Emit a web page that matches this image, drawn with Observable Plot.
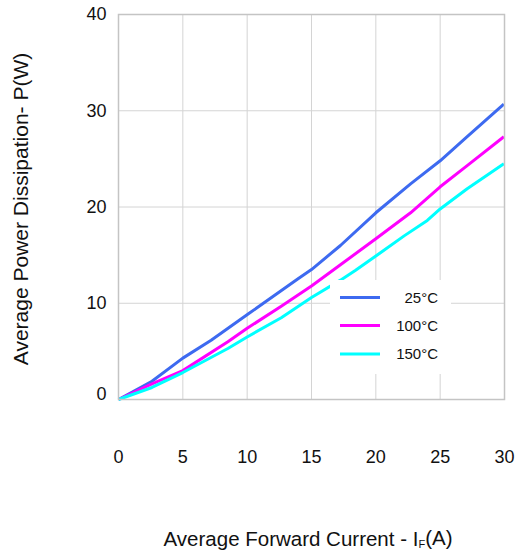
<!DOCTYPE html>
<html>
<head>
<meta charset="utf-8">
<script src="https://cdn.jsdelivr.net/npm/d3@7"></script>
<script src="https://cdn.jsdelivr.net/npm/@observablehq/plot@0.6"></script>
<style>
  html, body { margin: 0; padding: 0; background: #fff; }
  #chart { width: 517px; height: 556px; }
</style>
</head>
<body>
<div id="chart"></div>
<script>
const xTicks = [0, 5, 10, 15, 20, 25, 30];
const yTicks = [0, 10, 20, 30, 40];

const current25 = [0, 2.6, 5.0, 7.2, 10.1, 13.9, 15.0, 17.25, 20.0, 22.7, 25.0, 27.1, 29.95];
const power25   = [0, 1.9, 4.3, 6.16, 8.9, 12.5, 13.5, 16.0, 19.4, 22.4, 24.8, 27.3, 30.7];

const current100 = [0, 2.6, 5.0, 8.5, 10.0, 12.65, 15.0, 17.25, 20.0, 22.7, 25.0, 27.1, 29.95];
const power100   = [0, 1.63, 3.0, 6.0, 7.4, 9.7, 11.8, 14.0, 16.7, 19.4, 22.1, 24.3, 27.3];

const current150 = [0, 2.6, 5.0, 8.5, 10.0, 12.65, 15.0, 17.25, 18.4, 20.0, 22.2, 24.0, 25.0, 27.1, 29.95];
const power150   = [0, 1.25, 2.8, 5.3, 6.5, 8.5, 10.6, 12.4, 13.4, 14.9, 17.0, 18.6, 19.8, 21.9, 24.5];

const seriesNames = ["25°C", "100°C", "150°C"];
const seriesColors = ["#3d6af0", "#ff00ff", "#00ffff"];

const rows = [
  ...current25.map((x, i) => ({x, y: power25[i], s: seriesNames[0]})),
  ...current100.map((x, i) => ({x, y: power100[i], s: seriesNames[1]})),
  ...current150.map((x, i) => ({x, y: power150[i], s: seriesNames[2]}))
];

const W = 517, H = 556;
const mL = 118, mR = 13, mT = 14, mB = 157;
const FONT = "Liberation Sans, Arial, sans-serif";

const plot = Plot.plot({
  width: W,
  height: H,
  marginLeft: mL,
  marginRight: mR,
  marginTop: mT,
  marginBottom: mB,
  style: {fontFamily: FONT, background: "#fff", overflow: "visible"},
  x: {domain: [0, 30], ticks: xTicks},
  y: {domain: [0, 40], ticks: yTicks},
  color: {domain: seriesNames, range: seriesColors},
  marks: [
    Plot.gridX(xTicks, {stroke: "#d4d4d4", strokeOpacity: 1, strokeWidth: 1}),
    Plot.gridY(yTicks, {stroke: "#d4d4d4", strokeOpacity: 1, strokeWidth: 1}),
    Plot.axisX(xTicks, {tickSize: 0, tickPadding: 0, dy: 51, fontSize: 18, fill: "#111", label: null}),
    Plot.axisY(yTicks.filter(d => d !== 0), {tickSize: 0, tickPadding: 0, dx: -12, fontSize: 18, fill: "#111", label: null}),
    Plot.axisY([0], {tickSize: 0, tickPadding: 0, dx: -12, dy: -5, fontSize: 18, fill: "#111", label: null}),
    Plot.line(rows, {x: "x", y: "y", z: "s", stroke: "s", strokeWidth: 3, strokeLinejoin: "round", strokeLinecap: "butt"}),
    Plot.frame({stroke: "#c4c4c4", strokeWidth: 1.5})
  ]
});

document.getElementById("chart").appendChild(plot);

const svg = d3.select(plot);

// legend background box (covers gridlines)
svg.append("rect")
  .attr("x", 330).attr("y", 280).attr("width", 121).attr("height", 94)
  .attr("fill", "#fff");
const legY = [297.5, 325.5, 354];
seriesNames.forEach((name, i) => {
  svg.append("line")
    .attr("x1", 340).attr("x2", 380).attr("y1", legY[i]).attr("y2", legY[i])
    .attr("stroke", seriesColors[i]).attr("stroke-width", 3);
  svg.append("text")
    .attr("x", 438).attr("y", legY[i]).attr("dy", "0.35em")
    .attr("text-anchor", "end")
    .attr("font-family", FONT)
    .attr("font-size", 15).attr("fill", "#111")
    .text(name);
});

// y axis title
svg.append("text")
  .attr("transform", "translate(21,209) rotate(-90)")
  .attr("text-anchor", "middle").attr("dy", "0.35em")
  .attr("font-family", FONT)
  .attr("font-size", 21).attr("fill", "#111")
  .text("Average Power Dissipation- P(W)");

// x axis title with subscript
const xt = svg.append("text")
  .attr("x", 308).attr("y", 539).attr("dy", "0.35em")
  .attr("text-anchor", "middle")
  .attr("font-family", FONT)
  .attr("font-size", 20.5).attr("fill", "#111");
xt.append("tspan").text("Average Forward Current - I");
xt.append("tspan").attr("font-size", 11).attr("dy", "0.15em").text("F");
xt.append("tspan").attr("dy", "-0.15em").text("(A)");
</script>
</body>
</html>
